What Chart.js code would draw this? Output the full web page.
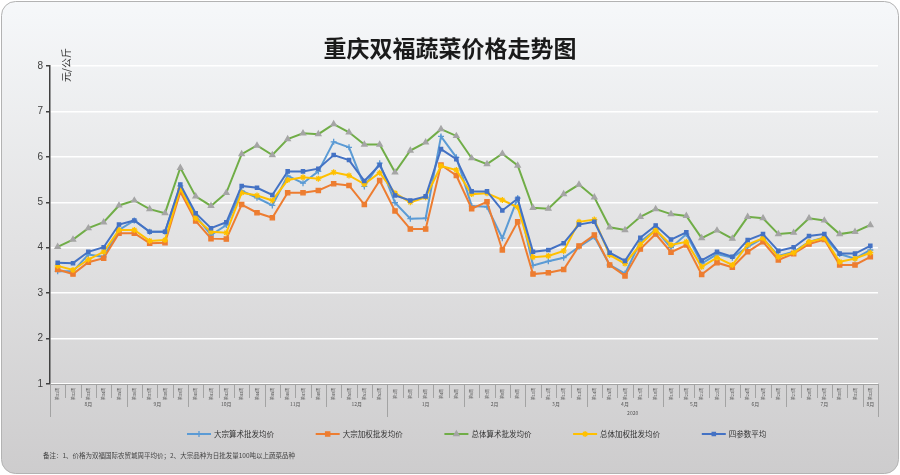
<!DOCTYPE html>
<html>
<head>
<meta charset="utf-8">
<script src="https://cdn.jsdelivr.net/npm/chart.js@4"></script>
<style>
html, body { margin: 0; padding: 0; background: #fff; }
#wrap { width: 900px; height: 475px; }
</style>
</head>
<body>
<div id="wrap"><canvas id="myChart" width="900" height="475"></canvas></div>
<script>
const weeks = [
    '第31周', '第32周', '第33周', '第34周', '第35周',
    '第36周', '第37周', '第38周', '第39周',
    '第40周', '第41周', '第42周', '第43周', '第44周',
    '第45周', '第46周', '第47周', '第48周',
    '第49周', '第50周', '第51周', '第52周',
    '第1周', '第2周', '第3周', '第4周', '第5周',
    '第6周', '第7周', '第8周', '第9周',
    '第10周', '第11周', '第12周', '第13周',
    '第14周', '第15周', '第16周', '第17周', '第18周',
    '第19周', '第20周', '第21周', '第22周',
    '第23周', '第24周', '第25周', '第26周',
    '第27周', '第28周', '第29周', '第30周', '第31周',
    '第32周'
];
const months = ['8月', '9月', '10月', '11月', '12月', '1月', '2月', '3月', '4月', '5月', '6月', '7月', '8月'];
const monthSpans = [5, 4, 5, 4, 4, 5, 4, 4, 5, 4, 4, 5, 1];
const years = ['', '2020'];
const yearSpans = [22, 32];

const bulkArith = [
    3.48, 3.48, 3.85, 3.80, 4.39, 4.60, 4.35, 4.35, 5.36, 4.70, 4.28, 4.50, 5.25, 5.10, 4.93, 5.58, 5.42, 5.68, 6.33,
    6.21, 5.35, 5.86, 4.99, 4.64, 4.65, 6.45, 5.99, 4.92, 4.90, 4.21, 5.09, 3.61, 3.70, 3.78, 4.02, 4.24, 3.62,
    3.43, 4.13, 4.40, 4.00, 4.30, 3.65, 3.86, 3.78, 4.02, 4.21, 3.82, 3.91, 4.13, 4.23, 3.86, 3.76, 3.95
];
const bulkWeighted = [
    3.52, 3.42, 3.68, 3.77, 4.32, 4.32, 4.10, 4.11, 5.23, 4.59, 4.20, 4.19, 4.95, 4.77, 4.66, 5.21, 5.21, 5.26, 5.41,
    5.37, 4.95, 5.48, 4.81, 4.41, 4.41, 5.82, 5.59, 4.86, 5.01, 3.95, 4.57, 3.42, 3.45, 3.52, 4.04, 4.28, 3.62,
    3.38, 3.97, 4.30, 3.90, 4.06, 3.41, 3.67, 3.57, 3.91, 4.13, 3.73, 3.87, 4.08, 4.18, 3.62, 3.62, 3.80
];
const totalArith = [
    4.02, 4.18, 4.43, 4.56, 4.93, 5.04, 4.85, 4.76, 5.76, 5.13, 4.92, 5.21, 6.06, 6.25, 6.04, 6.39, 6.52, 6.50, 6.72,
    6.54, 6.27, 6.27, 5.66, 6.14, 6.32, 6.61, 6.46, 5.97, 5.84, 6.07, 5.81, 4.88, 4.86, 5.18, 5.39, 5.11, 4.45,
    4.39, 4.68, 4.85, 4.74, 4.70, 4.21, 4.38, 4.20, 4.68, 4.65, 4.30, 4.33, 4.65, 4.60, 4.30, 4.35, 4.50
];
const totalWeighted = [
    3.60, 3.51, 3.74, 3.91, 4.39, 4.39, 4.15, 4.17, 5.30, 4.65, 4.35, 4.33, 5.21, 5.15, 5.04, 5.49, 5.55, 5.52, 5.66,
    5.59, 5.40, 5.65, 5.20, 5.00, 5.11, 5.80, 5.71, 5.18, 5.20, 5.05, 4.89, 3.79, 3.82, 3.93, 4.57, 4.62, 3.84,
    3.65, 4.07, 4.39, 4.06, 4.13, 3.58, 3.78, 3.62, 4.07, 4.21, 3.80, 3.89, 4.13, 4.21, 3.69, 3.76, 3.89
];
const fourAvg = [
    3.67, 3.66, 3.91, 4.01, 4.51, 4.60, 4.35, 4.35, 5.39, 4.76, 4.43, 4.56, 5.36, 5.32, 5.16, 5.68, 5.68, 5.74, 6.04,
    5.93, 5.47, 5.82, 5.15, 5.04, 5.13, 6.17, 5.95, 5.24, 5.24, 4.82, 5.08, 3.91, 3.95, 4.10, 4.51, 4.57, 3.89,
    3.71, 4.22, 4.49, 4.18, 4.34, 3.72, 3.91, 3.80, 4.17, 4.30, 3.93, 4.01, 4.26, 4.30, 3.87, 3.87, 4.04
];

const CJK = '"Noto Sans CJK SC", sans-serif';

function series(label, data, color, pointStyle, pointColor, radius, order) {
    return {
        label: label,
        data: data,
        borderColor: color,
        backgroundColor: pointColor,
        pointBackgroundColor: pointColor,
        pointBorderColor: pointColor,
        pointStyle: pointStyle,
        pointRadius: radius,
        pointBorderWidth: 1.3,
        borderWidth: 2,
        tension: 0,
        fill: false,
        order: order
    };
}

// background, frame and the gradient behind everything
const backdrop = {
    id: 'backdrop',
    beforeDraw(chart) {
        const c = chart.ctx;
        c.save();
        c.fillStyle = '#fff';
        c.fillRect(0, 0, chart.width, chart.height);
        const x0 = 1.5, y0 = 1.5, w = chart.width - 3, h = chart.height - 3, r = 14;
        c.beginPath();
        c.moveTo(x0 + r, y0);
        c.arcTo(x0 + w, y0, x0 + w, y0 + h, r);
        c.arcTo(x0 + w, y0 + h, x0, y0 + h, r);
        c.arcTo(x0, y0 + h, x0, y0, r);
        c.arcTo(x0, y0, x0 + w, y0, r);
        c.closePath();
        const g = c.createLinearGradient(0, 0, 0, chart.height);
        g.addColorStop(0, '#f6f8fa');
        g.addColorStop(0.5, '#e2e2e3');
        g.addColorStop(1, '#cdcccd');
        c.fillStyle = g;
        c.fill();
        c.strokeStyle = '#b3b3b3';
        c.lineWidth = 1;
        c.stroke();
        c.restore();
    }
};

// multi level category axis: weeks, months, year
const groupAxis = {
    id: 'groupAxis',
    afterDraw(chart) {
        const c = chart.ctx;
        const x = chart.scales.x;
        const area = chart.chartArea;
        const step = x.getPixelForValue(1) - x.getPixelForValue(0);
        const edge = i => x.getPixelForValue(0) - step / 2 + i * step;
        const b = area.bottom;
        c.save();
        c.strokeStyle = '#a3a3a3';
        c.lineWidth = 1;
        for (let i = 0; i <= weeks.length; i++) {
            c.beginPath();
            c.moveTo(Math.round(edge(i)) + 0.5, b);
            c.lineTo(Math.round(edge(i)) + 0.5, b + 14);
            c.stroke();
        }
        c.fillStyle = '#555';
        c.font = '4px ' + CJK;
        c.textAlign = 'center';
        c.textBaseline = 'middle';
        weeks.forEach((w, i) => {
            c.save();
            c.translate(x.getPixelForValue(i), b + 10);
            c.rotate(-Math.PI / 2);
            c.fillText(w, 0, 0);
            c.restore();
        });
        c.font = '5px ' + CJK;
        let k = 0;
        months.forEach((m, j) => {
            const s = edge(k), e = edge(k + monthSpans[j]);
            c.beginPath();
            c.moveTo(Math.round(s) + 0.5, b);
            c.lineTo(Math.round(s) + 0.5, b + 23);
            c.stroke();
            c.fillText(m, (s + e) / 2, b + 20.5);
            k += monthSpans[j];
        });
        k = 0;
        years.forEach((y, j) => {
            const s = edge(k), e = edge(k + yearSpans[j]);
            c.beginPath();
            c.moveTo(Math.round(s) + 0.5, b);
            c.lineTo(Math.round(s) + 0.5, b + 33);
            c.stroke();
            c.fillText(y, (s + e) / 2, b + 29);
            k += yearSpans[j];
        });
        const end = Math.round(edge(weeks.length)) + 0.5;
        c.beginPath();
        c.moveTo(end, b);
        c.lineTo(end, b + 33);
        c.stroke();
        c.restore();
    }
};

// title, unit, legend and footnote
const texts = {
    id: 'texts',
    afterDraw(chart) {
        const c = chart.ctx;
        c.save();
        c.fillStyle = '#1a1a1a';
        c.font = 'bold 23px ' + CJK;
        c.textAlign = 'center';
        c.textBaseline = 'middle';
        c.fillText('重庆双福蔬菜价格走势图', 450, 48);

        c.save();
        c.translate(66, 65);
        c.rotate(-Math.PI / 2);
        c.font = '10px ' + CJK;
        c.fillStyle = '#333';
        c.fillText('元/公斤', 0, 0);
        c.restore();

        chart.data.datasets.forEach((ds, i) => {
            const lx = 187 + i * 128.7, ly = 434;
            c.strokeStyle = ds.borderColor;
            c.lineWidth = 2;
            c.beginPath();
            c.moveTo(lx, ly);
            c.lineTo(lx + 24, ly);
            c.stroke();
            c.fillStyle = ds.pointBackgroundColor;
            c.strokeStyle = ds.pointBorderColor;
            c.lineWidth = 1.3;
            Chart.helpers.drawPoint(c, { pointStyle: ds.pointStyle, radius: ds.pointRadius, rotation: 0, borderWidth: 1.3 }, lx + 12, ly);
            c.fillStyle = '#333';
            c.font = '7.5px ' + CJK;
            c.textAlign = 'left';
            c.fillText(ds.label, lx + 27, ly);
        });

        c.fillStyle = '#444';
        c.font = '6.5px ' + CJK;
        c.textAlign = 'left';
        c.fillText('备注：1、价格为双福国际农贸城周平均价；2、大宗品种为日批发量100吨以上蔬菜品种', 43, 456);
        c.restore();
    }
};

const ctx = document.getElementById('myChart').getContext('2d');
const chart = new Chart(ctx, {
    type: 'line',
    data: {
        labels: weeks,
        datasets: [
            series('大宗算术批发均价', bulkArith, '#5b9bd5', 'cross', '#5b9bd5', 3, 5),
            series('大宗加权批发均价', bulkWeighted, '#ed7d31', 'rect', '#ed7d31', 3, 4),
            series('总体算术批发均价', totalArith, '#70ad47', 'triangle', '#a5a5a5', 3, 3),
            series('总体加权批发均价', totalWeighted, '#ffc000', 'star', '#ffc000', 3, 2),
            series('四参数平均', fourAvg, '#4472c4', 'rect', '#4472c4', 2.3, 1)
        ]
    },
    options: {
        responsive: false,
        animation: false,
        layout: { padding: { left: 0, top: 66, right: 22, bottom: 0 } },
        scales: {
            x: {
                offset: true,
                grid: { display: false },
                border: { display: true, color: '#a3a3a3', width: 1 },
                ticks: { display: false },
                afterFit: function (scale) { scale.height = 91; }
            },
            y: {
                min: 1,
                max: 8,
                ticks: {
                    stepSize: 1,
                    padding: 3,
                    color: '#404040',
                    font: { family: '"Liberation Sans", Arial', size: 10 }
                },
                grid: {
                    color: '#ffffff',
                    lineWidth: 1.5,
                    tickLength: 4,
                    tickColor: '#404040'
                },
                border: { display: true, color: '#404040', width: 1.5 },
                afterFit: function (scale) { scale.width = 50; }
            }
        },
        plugins: {
            legend: { display: false },
            tooltip: { enabled: false }
        }
    },
    plugins: [backdrop, groupAxis, texts]
});
</script>
</body>
</html>
